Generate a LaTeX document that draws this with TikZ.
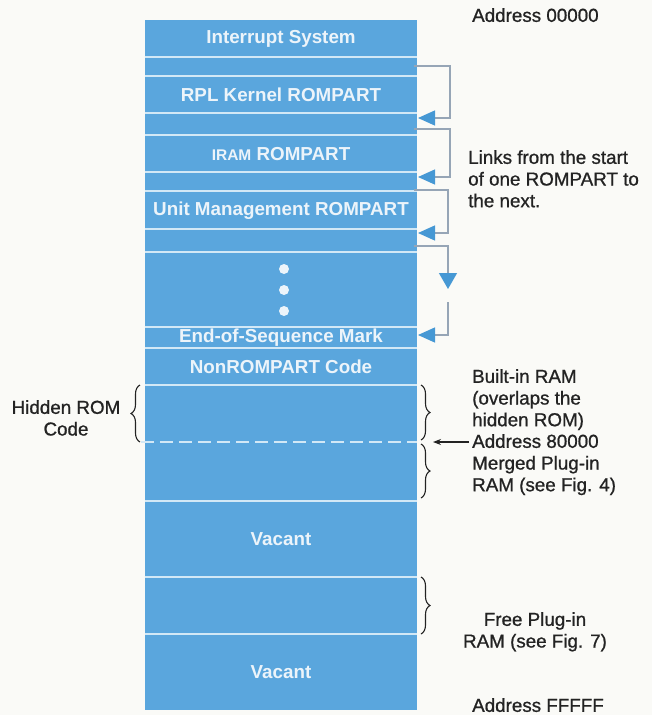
\documentclass[tikz,border=0pt]{standalone}
\usepackage{fontspec}
\setmainfont{Liberation Sans}
\newfontfamily\medfont{Liberation Sans}[FakeBold=0.9]
\usetikzlibrary{arrows.meta,decorations.pathreplacing,calc}
\definecolor{colblue}{RGB}{90,166,221}
\definecolor{sepc}{RGB}{210,232,246}
\definecolor{linkc}{RGB}{150,165,182}
\definecolor{arrc}{RGB}{70,152,212}
\definecolor{bgc}{RGB}{250,250,247}
\definecolor{txt}{RGB}{35,35,35}
\definecolor{lbl}{RGB}{236,244,250}
\tikzset{
  strip/.style={fill=colblue, draw=none, minimum width=272pt, inner sep=0pt, anchor=north},
  sepline/.style={draw=sepc, line width=2pt},
  collabel/.style={text=lbl, font=\fontsize{18.8}{20}\selectfont\bfseries, inner sep=0pt},
  sidetext/.style={text=txt, font=\medfont\fontsize{18.8}{21.7}\selectfont, align=left, inner sep=0pt, anchor=north west},
  link/.style={draw=linkc, line width=1.3pt},
  linkarrow/.style={link, -{Triangle[length=17pt,width=15pt,color=arrc]}},
  dotc/.style={circle, fill=lbl, minimum size=10pt, inner sep=0pt},
  bracec/.style={draw=txt, line width=1.1pt, decorate, decoration={brace, amplitude=9pt, aspect=0.5}},
}
\begin{document}
\begin{tikzpicture}[x=1pt,y=-1pt]
\fill[bgc] (0,0) rectangle (652,715);
\useasboundingbox (0,0) rectangle (652,715);
% strips
\node[strip, minimum height=37pt] (s0) at (281,20) {};
\node[strip, minimum height=19pt] (s1) at (281,57) {};
\node[strip, minimum height=37pt] (s2) at (281,76) {};
\node[strip, minimum height=22pt] (s3) at (281,113) {};
\node[strip, minimum height=37pt] (s4) at (281,135) {};
\node[strip, minimum height=19pt] (s5) at (281,172) {};
\node[strip, minimum height=38pt] (s6) at (281,191) {};
\node[strip, minimum height=23pt] (s7) at (281,229) {};
\node[strip, minimum height=75pt] (s8) at (281,252) {};
\node[strip, minimum height=21pt] (s9) at (281,327) {};
\node[strip, minimum height=37pt] (s10) at (281,348) {};
\node[strip, minimum height=57pt] (s11) at (281,385) {};
\node[strip, minimum height=59pt] (s12) at (281,442) {};
\node[strip, minimum height=76pt] (s13) at (281,501) {};
\node[strip, minimum height=57pt] (s14) at (281,577) {};
\node[strip, minimum height=76pt] (s15) at (281,634) {};
% separators
\foreach \s in {s0,s1,s2,s3,s4,s5,s6,s7,s8,s9,s10,s12,s13,s14}
  \draw[sepline] (\s.south west) -- (\s.south east);
\draw[draw=sepc, line width=2pt, dash pattern=on 13pt off 6pt] ([xshift=-4pt]s11.south west) -- (s11.south east);
% labels
\node[collabel] (t0) at (s0.center) {Interrupt System};
\node[collabel] (t2) at (s2.center) {RPL Kernel ROMPART};
\node[collabel] (t4) at (s4.center) {{\fontsize{15.5}{15}\selectfont IRAM} ROMPART};
\node[collabel] (t6) at (s6.center) {Unit Management ROMPART};
\node[collabel] (t9) at (s9.center) {End-of-Sequence Mark};
\node[collabel] (t10) at (s10.center) {NonROMPART Code};
\node[collabel] (t13) at (s13.center) {Vacant};
\node[collabel] (t15) at (s15.center) {Vacant};
\node[dotc] (d1) at (284,269) {};
\node[dotc] (d2) at (284,290) {};
\node[dotc] (d3) at (284,311) {};
% links
\coordinate (a1) at (414,66);
\coordinate (b1) at (418,118);
\coordinate (a2) at (414,129);
\coordinate (b2) at (418,177);
\coordinate (a3) at (414,190);
\coordinate (b3) at (418,233);
\coordinate (a4) at (414,246);
\coordinate (b4) at (448,289);
\coordinate (a5) at (448,302);
\coordinate (b5) at (418,335);
\draw[linkarrow] (a1) -- ++(36,0) |- (b1);
\draw[linkarrow] (a2) -- ++(36,0) |- (b2);
\draw[linkarrow] (a3) -- ++(34,0) |- (b3);
\draw[link, -{Triangle[length=16pt,width=18pt,color=arrc]}] (a4) -| (b4);
\draw[linkarrow] (a5) |- (b5);
% braces
\draw[bracec] (140,442) -- (140,385);
\draw[bracec] (421,385) -- (421,440);
\draw[bracec] (421,444) -- (421,498);
\draw[bracec] (421,577) -- (421,634);
% side texts
\node[sidetext] (addr0) at (472,8) {Address 00000};
\node[sidetext] (links) at (468,150) {Links from the start\\of one ROMPART to\\the next.};
\node[sidetext] (bram) at (472,369) {Built-in RAM\\(overlaps the\\hidden ROM)};
\node[sidetext] (addr8) at (472,434) {Address 80000\\Merged Plug-in\\RAM (see Fig. 4)};
\node[sidetext, align=center, anchor=north] (free) at (535,612) {Free Plug-in\\RAM (see Fig. 7)};
\node[sidetext] (addrf) at (472,698) {Address FFFFF};
\node[sidetext, align=center, anchor=north] (hrom) at (66,400) {Hidden ROM\\Code};
\coordinate (p8) at (433,442);
\draw[draw=txt, line width=1.1pt, -{Stealth[length=8pt,width=6pt]}] ([xshift=-3pt]addr8.west |- p8) -- (p8);
\end{tikzpicture}
\end{document}
